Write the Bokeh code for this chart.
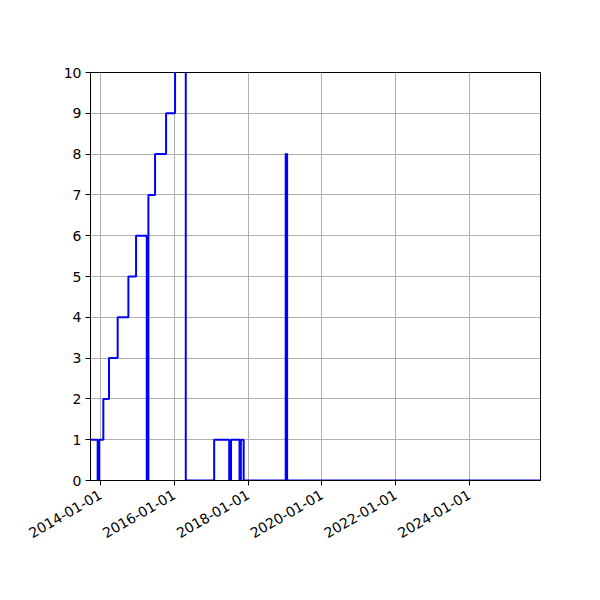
import math
from datetime import datetime

from bokeh.plotting import figure
from bokeh.models import ColumnDataSource, Range1d, FixedTicker, DatetimeTickFormatter
from bokeh.embed import file_html
from bokeh.resources import INLINE

# step values (value holds until the next date)
dates = ["2013-09-24", "2013-12-04", "2013-12-17", "2014-01-29", "2014-03-26",
         "2014-06-20", "2014-10-04", "2014-12-19", "2015-04-04", "2015-04-20",
         "2015-06-25", "2015-10-12", "2016-01-09", "2016-04-24", "2017-01-30",
         "2017-06-28", "2017-07-16", "2017-10-08", "2017-10-21", "2017-11-18",
         "2019-01-08", "2019-01-22", "2025-12-04"]
counts = [1, 0, 1, 2, 3, 4, 5, 6, 0, 7, 8, 9, 11, 0, 1, 0, 1, 0, 1, 0, 8, 0, 0]

tick_years = [2014, 2016, 2018, 2020, 2022, 2024]
y_ticks = list(range(0, 11))

EPOCH = datetime(1970, 1, 1)
x = [datetime.strptime(d, "%Y-%m-%d") for d in dates]
source = ColumnDataSource(data={"x": x, "y": counts})

FONT = "DejaVu Sans"
SIZE = "14px"

p = figure(width=584, height=584, x_axis_type="datetime",
           output_backend="svg", toolbar_location=None,
           min_border_left=90, min_border_right=44,
           min_border_top=72, min_border_bottom=104,
           x_range=Range1d(x[0], x[-1]), y_range=Range1d(0, 10))

p.step(x="x", y="y", source=source, mode="after", line_color="#0000ff", line_width=2)

p.outline_line_color = "black"
p.outline_line_width = 1
p.background_fill_color = "white"
p.border_fill_color = "white"

p.xaxis.ticker = FixedTicker(ticks=[(datetime(yr, 1, 1) - EPOCH).total_seconds() * 1000
                                    for yr in tick_years])
fmt = "%Y-%m-%d"
p.xaxis.formatter = DatetimeTickFormatter(years=fmt, months=fmt, days=fmt, hours=fmt,
                                          hourmin=fmt, minutes=fmt, minsec=fmt,
                                          seconds=fmt, milliseconds=fmt, microseconds=fmt)
p.xaxis.major_label_orientation = math.pi / 6
p.yaxis.ticker = FixedTicker(ticks=y_ticks)

for ax in (p.xaxis, p.yaxis):
    ax.axis_line_color = "black"
    ax.axis_line_width = 1
    ax.major_tick_line_color = "black"
    ax.major_tick_in = 0
    ax.major_tick_out = 5
    ax.minor_tick_line_color = None
    ax.major_label_text_font = FONT
    ax.major_label_text_font_size = SIZE
    ax.major_label_text_color = "black"
    ax.major_label_standoff = 4

p.xaxis.major_label_standoff = 8

p.grid.grid_line_color = "#b0b0b0"
p.grid.grid_line_width = 1

open("out.html", "w").write(file_html(p, INLINE))
